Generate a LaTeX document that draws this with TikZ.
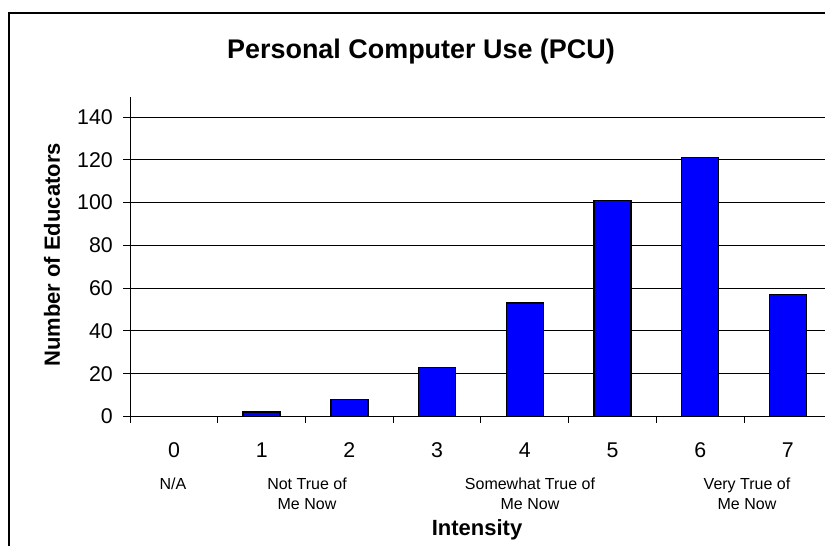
\documentclass[tikz,border=0pt]{standalone}
\usepackage{fontspec}
\setmainfont{Liberation Sans}
\definecolor{barblue}{RGB}{0,0,255}

\begin{document}
\begin{tikzpicture}[x=0.75pt, y=-0.75pt,
  bar/.style={draw=black, line width=1.1pt, fill=barblue},
  gridline/.style={black, line width=0.75pt},
  ticklabel/.style={font=\fontsize{16}{18}\selectfont, inner sep=0pt},
  catnote/.style={font=\fontsize{12}{15}\selectfont, align=center, inner sep=0pt, anchor=north},
  axistitle/.style={font=\fontsize{16.5}{19}\selectfont\bfseries, inner sep=0pt}]
  \useasboundingbox (0,0) rectangle (825,546);
  % chart frame, cut off at right and bottom
  \draw[line width=0.9pt] (9,546) -- (9,13) -- (825,13);
  \node[font=\fontsize{20.2}{23}\selectfont\bfseries, inner sep=0pt] (title) at (421,52) {Personal Computer Use (PCU)};

  % value axis and grid
  \foreach \v in {0,20,...,140}{
    \pgfmathsetmacro{\yy}{416.5-2.139*\v}
    \draw[gridline] (123,\yy) -- (825,\yy);
    \node[ticklabel, anchor=east] (val\v) at (113,\yy) {\v};
  }
  \draw[line width=0.75pt] (130,97) -- (130,423);
  \node[axistitle, rotate=90] (ytitle) at (52,255) {Number of Educators};

  % bars and category axis
  \foreach \c [count=\i from 0] in {0,2,8,23,53,101,121,57}{
    \pgfmathsetmacro{\xx}{174+87.7*\i}
    \pgfmathsetmacro{\yy}{416.5-2.139*\c}
    \draw[line width=0.75pt] (\xx-43.85,416.5) -- (\xx-43.85,423);
    \ifnum\c>0
      \draw[bar] (\xx-18.5,416.5) rectangle (\xx+18.5,\yy);
    \fi
    \node[ticklabel] (cat\i) at (\xx,450) {\i};
  }
  \draw[line width=0.75pt] (831.6,416.5) -- (831.6,423);

  \node[catnote] (na) at (173,478) {N/A};
  \node[catnote] (nottrue) at (307,478) {Not True of\\Me Now};
  \node[catnote] (somewhat) at (530,478) {Somewhat True of\\Me Now};
  \node[catnote] (verytrue) at (747,478) {Very True of\\Me Now};
  \node[axistitle] (xtitle) at (477,530) {Intensity};
\end{tikzpicture}
\end{document}
